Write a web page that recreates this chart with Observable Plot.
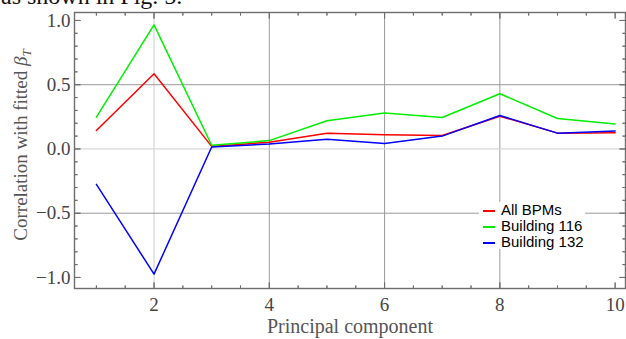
<!DOCTYPE html>
<html>
<head>
<meta charset="utf-8">
<script src="https://cdn.jsdelivr.net/npm/d3@7"></script>
<script src="https://cdn.jsdelivr.net/npm/@observablehq/plot@0.6"></script>
<style>
  html, body { margin: 0; padding: 0; background: #fff; }
  #wrap { position: relative; width: 626px; height: 339px; overflow: hidden; }
  #toptext { position: absolute; left: 1px; top: -17px; font: 24px "Liberation Serif", "Times New Roman", serif; line-height: 27px; color: #111; white-space: nowrap; }
  #legend { position: absolute; left: 479px; top: 202px; width: 106px; height: 47px; background: #fff;
            font: 15px "Liberation Sans", Arial, sans-serif; color: #000; }
  #legend .row { position: absolute; left: 22px; white-space: nowrap; line-height: 16px; }
  #legend .sw { position: absolute; left: 4px; width: 12px; height: 2px; }
  #chart svg text { font-family: "Liberation Serif", "Times New Roman", serif; }
</style>
</head>
<body>
<div id="wrap">
  <div id="chart"></div>
  <div id="toptext">as shown in Fig. 5.</div>
  <div id="legend"></div>
</div>
<script>
// ---- data ----
const components = [1, 2, 3, 4, 5, 6, 7, 8, 9, 10];
const allBPMs     = [0.143, 0.585, 0.02, 0.052, 0.123, 0.11, 0.105, 0.255, 0.123, 0.126];
const building116 = [0.247, 0.966, 0.029, 0.065, 0.22, 0.28, 0.245, 0.43, 0.237, 0.194];
const building132 = [-0.275, -0.974, 0.015, 0.039, 0.076, 0.042, 0.1, 0.26, 0.123, 0.139];
const seriesNames = ["All BPMs", "Building 116", "Building 132"];
const seriesColors = ["#ff0000", "#00ee00", "#0000ff"];
const xTicks = [2, 4, 6, 8, 10];
const yTicks = [-1.0, -0.5, 0.0, 0.5, 1.0];

const seriesValues = [allBPMs, building116, building132];
const rows = seriesNames.flatMap((name, i) =>
  components.map((c, j) => ({series: name, x: c, y: seriesValues[i][j]})));

const xDomain = [0.62, 10.18];
const yDomain = [-1.086, 1.062];
const xMinor = d3.range(1, 10.5, 0.5).filter(v => !xTicks.includes(v));
const yMinor = d3.range(-10, 11).map(v => v / 10).filter(v => !yTicks.some(t => Math.abs(t - v) < 1e-9));

const fmt = d => (d < 0 ? "\u2212" : "") + Math.abs(d).toFixed(1);
const frameColor = "#6e6e6e";
const serif = "'Liberation Serif', 'Times New Roman', serif";

// inward tick marks on each side of the frame
function ticksOn(side, values, len) {
  const horiz = side === "bottom" || side === "top";
  const rotate = {bottom: 0, top: 180, left: 90, right: -90}[side];
  return Plot.vector(values, {
    x: horiz ? d => d : () => (side === "left" ? xDomain[0] : xDomain[1]),
    y: horiz ? () => (side === "bottom" ? yDomain[0] : yDomain[1]) : d => d,
    length: len, rotate, anchor: "start", stroke: frameColor, strokeWidth: 1, shape: "spike", r: 0
  });
}

const plot = Plot.plot({
  width: 626,
  height: 339,
  marginLeft: 74,
  marginRight: 1,
  marginTop: 12,
  marginBottom: 51,
  style: {background: "transparent", overflow: "visible", fontFamily: serif, fontSize: "19px"},
  x: {domain: xDomain, ticks: xTicks},
  y: {domain: yDomain, ticks: yTicks},
  length: {type: "identity"},
  marks: [
    // grid lines (Mathematica style)
    Plot.gridX([2], {stroke: "#d8d8d8", strokeOpacity: 1, strokeWidth: 1.3}),
    Plot.gridX([4, 6, 8], {stroke: "#9a9a9a", strokeOpacity: 1, strokeWidth: 1}),
    Plot.gridY([0], {stroke: "#d8d8d8", strokeOpacity: 1, strokeWidth: 1.3}),
    Plot.gridY([-0.5, 0.5], {stroke: "#9a9a9a", strokeOpacity: 1, strokeWidth: 1}),
    // data lines
    Plot.line(rows, {x: "x", y: "y", z: "series", stroke: d => seriesColors[seriesNames.indexOf(d.series)], strokeWidth: 1.5}),
    // frame
    Plot.frame({stroke: frameColor, strokeWidth: 1.4}),
    // labelled axes (no outward ticks)
    Plot.axisX(xTicks, {anchor: "bottom", tickSize: 0, tickFormat: d => String(d),
      fontSize: 19, fontFamily: serif, fill: "#444", tickPadding: 9, label: null}),
    Plot.axisY(yTicks, {anchor: "left", tickSize: 0, tickFormat: fmt,
      fontSize: 19, fontFamily: serif, fill: "#444", tickPadding: 4, label: null}),
    // major and minor inward ticks
    ticksOn("bottom", xTicks, 6), ticksOn("top", xTicks, 6),
    ticksOn("left", yTicks, 6), ticksOn("right", yTicks, 6),
    ticksOn("bottom", xMinor, 3), ticksOn("top", xMinor, 3),
    ticksOn("left", yMinor, 3), ticksOn("right", yMinor, 3)
  ]
});
document.getElementById("chart").appendChild(plot);

// axis titles as real text
const svg = d3.select(plot);
svg.selectAll("text").attr("font-family", serif);
svg.append("text")
  .attr("x", 350).attr("y", 333)
  .attr("text-anchor", "middle")
  .attr("font-family", serif)
  .attr("font-size", 20).attr("fill", "#555")
  .text("Principal component");
const yl = svg.append("text")
  .attr("transform", "translate(27,145) rotate(-90)")
  .attr("text-anchor", "middle")
  .attr("font-family", serif)
  .attr("font-size", 19).attr("fill", "#555");
yl.append("tspan").text("Correlation with fitted ");
yl.append("tspan").attr("font-style", "italic").text("\u03B2");
yl.append("tspan").attr("font-style", "italic").attr("font-size", 13).attr("dy", 4).text("T");

// legend
const legend = d3.select("#legend");
seriesNames.forEach((name, i) => {
  legend.append("div").attr("class", "sw")
    .style("top", (8 + i * 16) + "px").style("background", seriesColors[i]);
  legend.append("div").attr("class", "row")
    .style("top", (i * 16) + "px").text(name);
});
</script>
</body>
</html>
